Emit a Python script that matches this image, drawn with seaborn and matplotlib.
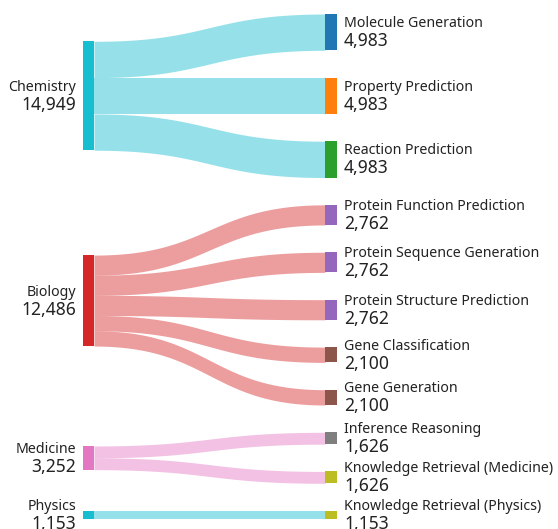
import numpy as np
import seaborn as sns
import matplotlib.pyplot as plt

# Flow data: domain -> task
sources = ['Chemistry', 'Chemistry', 'Chemistry',
           'Biology', 'Biology', 'Biology', 'Biology', 'Biology',
           'Medicine', 'Medicine', 'Physics']
targets = ['Molecule Generation', 'Property Prediction', 'Reaction Prediction',
           'Protein Function Prediction', 'Protein Sequence Generation',
           'Protein Structure Prediction', 'Gene Classification', 'Gene Generation',
           'Inference Reasoning', 'Knowledge Retrieval (Medicine)',
           'Knowledge Retrieval (Physics)']
values = [4983, 4983, 4983, 2762, 2762, 2762, 2100, 2100, 1626, 1626, 1153]

left_nodes = ['Chemistry', 'Biology', 'Medicine', 'Physics']

sns.set_theme(style='white')
plt.rcParams['font.family'] = ['Noto Sans', 'DejaVu Sans']
pal = sns.color_palette('tab10')

left_colors = {'Chemistry': pal[9], 'Biology': pal[3], 'Medicine': pal[6], 'Physics': pal[9]}
right_colors = [pal[0], pal[1], pal[2], pal[4], pal[4], pal[4], pal[5], pal[5],
                pal[7], pal[8], pal[8]]

# layout (pixel space)
W, H = 558, 529
top, bottom = 14, 519
gap = 27.3
scale = (bottom - top - gap * (len(targets) - 1)) / sum(values)
xl0, xl1 = 83, 94
xr0, xr1 = 325, 337

fig = plt.figure(figsize=(W / 100, H / 100), dpi=100)
ax = fig.add_axes([0, 0, 1, 1])
ax.set_xlim(0, W)
ax.set_ylim(H, 0)
ax.axis('off')

# right nodes stacked top to bottom
r_y0 = []
y = top
for v in values:
    r_y0.append(y)
    y += v * scale + gap
r_c = [y0 + v * scale / 2 for y0, v in zip(r_y0, values)]

# left nodes centered on weighted mean of their targets
l_y0 = {}
for n in left_nodes:
    idx = [i for i, s in enumerate(sources) if s == n]
    tot = sum(values[i] for i in idx)
    c = sum(values[i] * r_c[i] for i in idx) / tot
    l_y0[n] = (c - tot * scale / 2, tot)

# links
t = np.linspace(0, 1, 100)
xm = (xl1 + xr0) / 2
bx = (1 - t) ** 3 * xl1 + 3 * (1 - t) ** 2 * t * xm + 3 * (1 - t) * t ** 2 * xm + t ** 3 * xr0
by = 3 * (1 - t) * t ** 2 + t ** 3
offs = {n: l_y0[n][0] for n in left_nodes}
for i, (s, v) in enumerate(zip(sources, values)):
    h = v * scale
    s0 = offs[s]
    offs[s] += h
    t0 = r_y0[i]
    ya = s0 + (t0 - s0) * by
    yb = s0 + h + (t0 - s0) * by
    ax.fill_between(bx, ya, yb, color=left_colors[s], alpha=0.45, lw=0)

# nodes + labels
for n in left_nodes:
    y0, tot = l_y0[n]
    ax.bar(xl0, tot * scale, width=xl1 - xl0, bottom=y0, align='edge',
           color=left_colors[n], lw=0)
    c = y0 + tot * scale / 2
    ax.text(76, c - 5, n, ha='right', va='baseline', fontsize=10.2, color='#222222')
    ax.text(76, c + 14, f'{tot:,}', ha='right', va='baseline', fontsize=12.6, color='#222222')

for i, (name, v) in enumerate(zip(targets, values)):
    ax.bar(xr0, v * scale, width=xr1 - xr0, bottom=r_y0[i], align='edge',
           color=right_colors[i], lw=0)
    ax.text(344, r_c[i] - 5, name, ha='left', va='baseline', fontsize=10.2, color='#222222')
    ax.text(344, r_c[i] + 14, f'{v:,}', ha='left', va='baseline', fontsize=12.6, color='#222222')

fig.savefig('out.png', dpi=100)
